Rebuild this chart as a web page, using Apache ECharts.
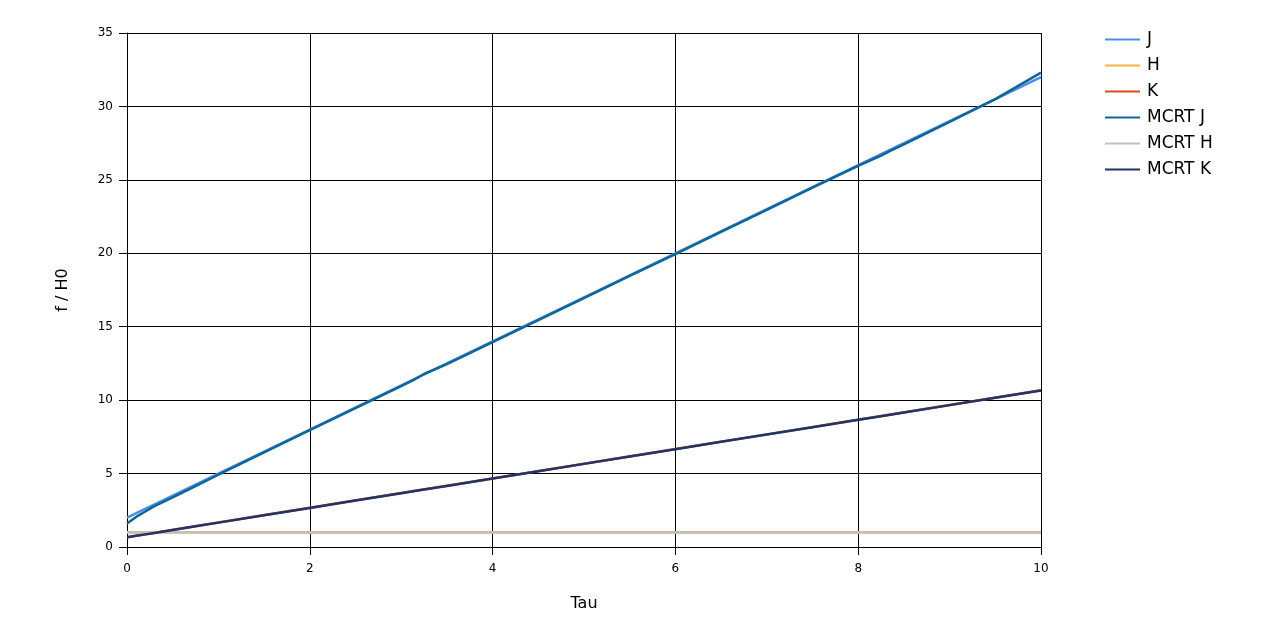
<!DOCTYPE html>
<html><head><meta charset="utf-8">
<script src="https://cdn.jsdelivr.net/npm/echarts@6/dist/echarts.min.js"></script>
<style>html,body{margin:0;padding:0;background:#fff}#c{width:1280px;height:640px}</style>
</head><body><div id="c"></div>
<script>
var tauA = [0, 1, 2, 3, 4, 5, 6, 7, 8, 9, 10];
var J = [2, 5, 8, 11, 14, 17, 20, 23, 26, 29, 32];
var H = [1, 1, 1, 1, 1, 1, 1, 1, 1, 1, 1];
var K = [0.67, 1.67, 2.67, 3.67, 4.67, 5.67, 6.67, 7.67, 8.67, 9.67, 10.67];

var tauM = [0, 0.1, 0.2, 0.3, 0.5, 0.75, 1, 1.5, 2, 2.5, 3, 3.15, 3.25, 3.5, 4, 4.5, 5, 5.5, 6, 6.5, 7, 7.5, 8, 8.25, 8.35, 8.5, 9, 9.5, 10];
var MJ = [1.6, 2.05, 2.42, 2.78, 3.38, 4.15, 4.92, 6.44, 7.95, 9.45, 10.95, 11.42, 11.78, 12.45, 13.95, 15.45, 16.95, 18.47, 19.95, 21.45, 22.95, 24.47, 25.95, 26.65, 26.98, 27.42, 28.95, 30.5, 32.3];
var MH = [0.99, 0.99, 0.99, 0.99, 0.99, 0.99, 0.99, 0.99, 0.99, 0.99, 0.99, 0.99, 0.99, 0.99, 0.99, 0.99, 0.99, 0.99, 0.99, 0.99, 0.99, 0.99, 0.99, 0.99, 0.99, 0.99, 0.99, 0.99, 0.99];
var MK = [0.66, 0.76, 0.86, 0.96, 1.16, 1.41, 1.66, 2.16, 2.66, 3.16, 3.66, 3.81, 3.91, 4.16, 4.66, 5.16, 5.66, 6.16, 6.66, 7.16, 7.66, 8.16, 8.66, 8.91, 9.01, 9.16, 9.66, 10.16, 10.66];

var seriesNames = ['J', 'H', 'K', 'MCRT J', 'MCRT H', 'MCRT K'];
var colors = ['#4a8fe7', '#f9b040', '#e04a1a', '#0d6699', '#c0c0c0', '#1f3565'];

function pairs(x, y) { return x.map(function (v, i) { return [v, y[i]]; }); }
var dataSets = [pairs(tauA, J), pairs(tauA, H), pairs(tauA, K), pairs(tauM, MJ), pairs(tauM, MH), pairs(tauM, MK)];

var font = 'DejaVu Sans';
var chart = echarts.init(document.getElementById('c'));
chart.setOption({
  animation: false,
  color: colors,
  grid: { left: 127, top: 33, width: 914, height: 514, containLabel: false },
  legend: {
    orient: 'vertical', left: 1100, top: 26, itemGap: 9, itemWidth: 35, itemHeight: 18,
    icon: 'path://M0,8L35,8L35,10L0,10Z',
    textStyle: { fontFamily: font, fontSize: 17, color: '#000', padding: [0, 0, 0, 2] },
    data: seriesNames
  },
  xAxis: {
    type: 'value', min: 0, max: 10, interval: 2,
    name: 'Tau', nameLocation: 'middle', nameGap: 49,
    nameTextStyle: { fontFamily: font, fontSize: 16, color: '#000' },
    axisLine: { show: true, lineStyle: { color: '#000', width: 1 } },
    axisTick: { show: true, length: 8, lineStyle: { color: '#000' } },
    axisLabel: { fontFamily: font, fontSize: 12, color: '#000', margin: 16 },
    splitLine: { show: true, lineStyle: { color: '#000', width: 1 } }
  },
  yAxis: {
    type: 'value', min: 0, max: 35, interval: 5,
    name: 'f / H0', nameLocation: 'middle', nameGap: 56, nameRotate: 90,
    nameTextStyle: { fontFamily: font, fontSize: 16, color: '#000' },
    axisLine: { show: true, lineStyle: { color: '#000', width: 1 } },
    axisTick: { show: true, length: 8, lineStyle: { color: '#000' } },
    axisLabel: { fontFamily: font, fontSize: 12, color: '#000', margin: 14 },
    splitLine: { show: true, lineStyle: { color: '#000', width: 1 } }
  },
  series: seriesNames.map(function (n, i) {
    return {
      name: n, type: 'line', data: dataSets[i], showSymbol: false, symbol: 'none',
      lineStyle: { width: 2.5, color: colors[i] }, itemStyle: { color: colors[i] }
    };
  })
});
</script>
</body></html>
